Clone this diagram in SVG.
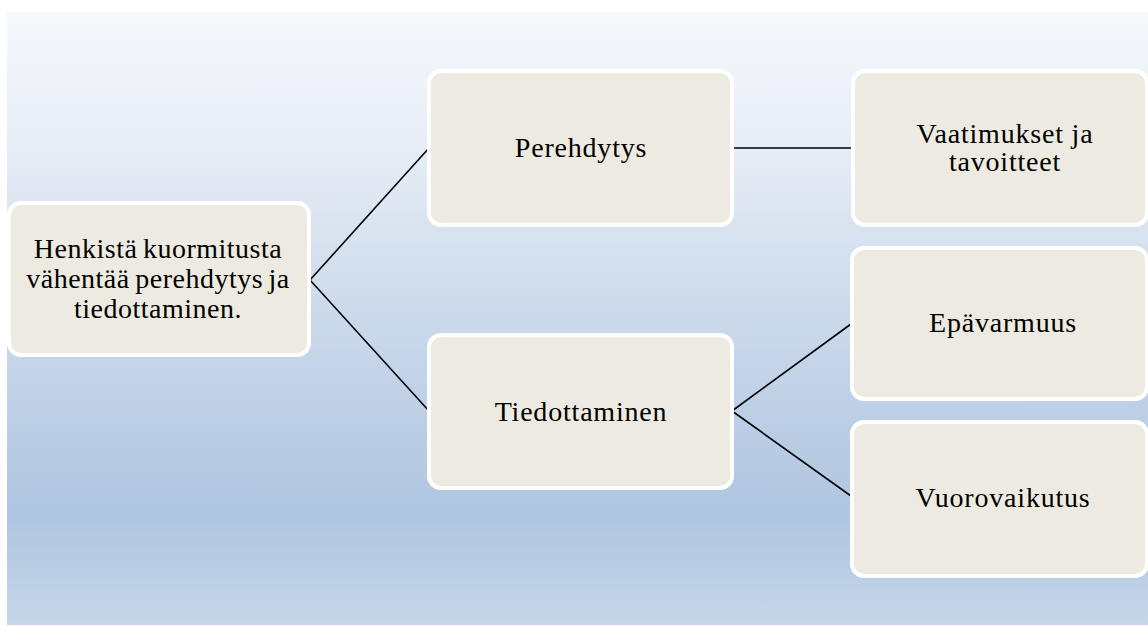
<svg xmlns="http://www.w3.org/2000/svg" width="1148" height="626" viewBox="0 0 1148 626">
  <defs>
    <linearGradient id="bg" x1="0" y1="0" x2="0" y2="1">
      <stop offset="0" stop-color="#f6f9fc"/>
      <stop offset="0.2" stop-color="#e8eef6"/>
      <stop offset="0.5" stop-color="#cbd9eb"/>
      <stop offset="0.82" stop-color="#afc5e0"/>
      <stop offset="1" stop-color="#c6d6e9"/>
    </linearGradient>
    <style>
      .box { fill: #edebe1; stroke: #ffffff; stroke-width: 4; }
      .lbl { font-family: "Liberation Serif", "Times New Roman", serif; font-size: 28px; letter-spacing: 0.8px; fill: #000000; text-anchor: middle; }
      .tight { letter-spacing: 0.5px; word-spacing: -2px; }
      .conn { stroke: #000000; stroke-width: 1.6; fill: none; }
    </style>
  </defs>

  <!-- page and backdrop -->
  <rect x="0" y="0" width="1148" height="626" fill="#ffffff"/>
  <rect x="7" y="12" width="1141" height="613" fill="url(#bg)"/>

  <g id="connectors">
    <path class="conn" d="M310 280 L429 148 M310 280 L429 411"/>
    <path class="conn" d="M732 148 L853 148"/>
    <path class="conn" d="M732 411 L851 324 M732 411 L851 496"/>
  </g>

  <g id="root">
    <rect class="box" x="9" y="203" width="300" height="152" rx="12"/>
    <text class="lbl tight" x="158" y="258">Henkistä kuormitusta</text>
    <text class="lbl tight" x="158" y="288">vähentää perehdytys ja</text>
    <text class="lbl tight" x="158" y="318">tiedottaminen.</text>
  </g>

  <g id="perehdytys">
    <rect class="box" x="429" y="71" width="303" height="154" rx="12"/>
    <text class="lbl" x="581" y="157">Perehdytys</text>
  </g>

  <g id="tiedottaminen">
    <rect class="box" x="429" y="335" width="303" height="153" rx="12"/>
    <text class="lbl" x="581" y="421">Tiedottaminen</text>
  </g>

  <g id="vaatimukset">
    <rect class="box" x="853" y="71" width="294" height="154" rx="12"/>
    <text class="lbl" x="1005" y="143">Vaatimukset ja</text>
    <text class="lbl" x="1005" y="171">tavoitteet</text>
  </g>

  <g id="epavarmuus">
    <rect class="box" x="852" y="248" width="295" height="151" rx="12"/>
    <text class="lbl" x="1003" y="332">Epävarmuus</text>
  </g>

  <g id="vuorovaikutus">
    <rect class="box" x="852" y="422" width="295" height="154" rx="12"/>
    <text class="lbl" x="1003" y="507">Vuorovaikutus</text>
  </g>
</svg>
